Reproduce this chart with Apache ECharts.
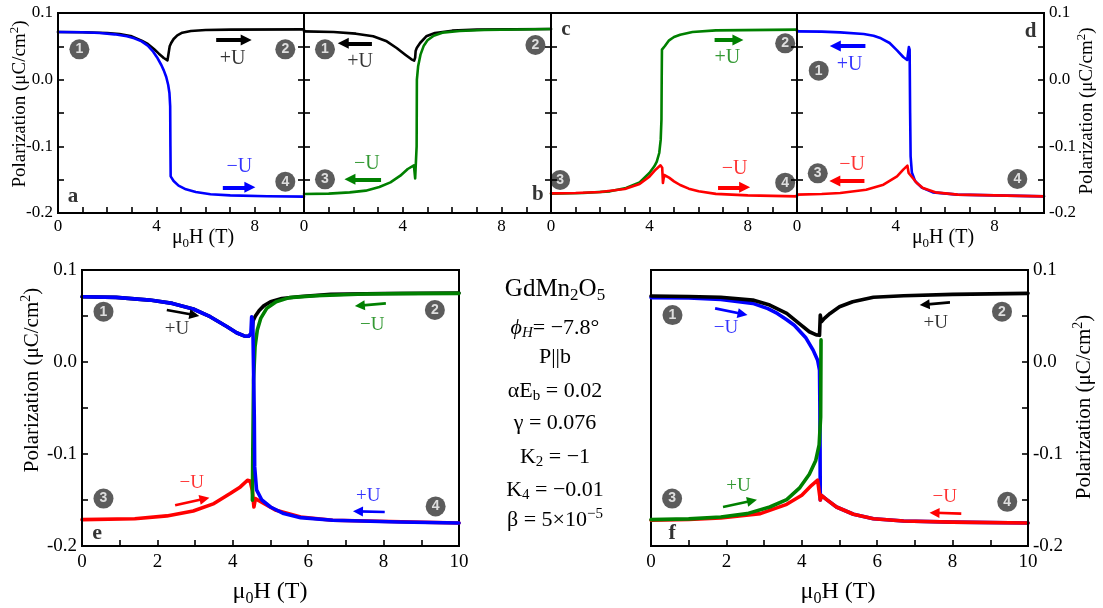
<!DOCTYPE html>
<html>
<head>
<meta charset="utf-8">
<script src="https://cdn.jsdelivr.net/npm/echarts@6/dist/echarts.min.js"></script>
<style>
  html, body { margin: 0; padding: 0; background: #fff; }
  #chart { width: 1103px; height: 608px; }
</style>
</head>
<body>
<div id="chart"></div>
<script>
// ---- polarization P (μC/cm²) versus field μ0H (T), GdMn2O5 model curves ----

// axis ranges and tick labels
const fieldRange = [0, 10];
const polRange = [-0.2, 0.1];
const topFieldLabels = [0, 4, 8];
const bottomFieldLabels = [0, 2, 4, 6, 8, 10];
const polLabels = [-0.2, -0.1, 0.0, 0.1];

// panel a
const a_black = [[0,0.0715],[1,0.0712],[2,0.07],[2.5,0.0685],[3,0.065],[3.4,0.0585],[3.65,0.0535],[3.9,0.046],[4.1,0.039],[4.3,0.0325],[4.45,0.029],[4.52,0.031],[4.54,0.05],[4.6,0.055],[4.7,0.061],[4.85,0.0665],[5.05,0.0705],[5.4,0.073],[6,0.0745],[7,0.075],[10,0.0755]];
const a_blue = [[0,0.0715],[1,0.0712],[1.7,0.07],[2.3,0.068],[2.8,0.065],[3.1,0.062],[3.4,0.0575],[3.65,0.051],[3.87,0.042],[4.05,0.032],[4.2,0.022],[4.3,0.014],[4.4,0.004],[4.48,-0.008],[4.53,-0.02],[4.56,-0.04],[4.57,-0.1],[4.58,-0.145],[4.7,-0.152],[4.9,-0.159],[5.2,-0.1645],[5.6,-0.1685],[6.2,-0.1718],[7,-0.1735],[8.5,-0.1748],[10,-0.1755]];
// panel b
const b_black = [[0,0.0725],[1.2,0.0715],[2.1,0.069],[2.8,0.065],[3.35,0.0575],[3.75,0.0475],[4.1,0.0375],[4.35,0.0305],[4.46,0.0285],[4.5,0.033],[4.52,0.043],[4.57,0.048],[4.7,0.055],[4.95,0.065],[5.3,0.07],[6,0.0735],[7,0.075],[10,0.076]];
const b_green = [[0,-0.1715],[1.0,-0.171],[1.85,-0.169],[2.5,-0.1665],[3.05,-0.161],[3.5,-0.154],[3.9,-0.144],[4.2,-0.134],[4.45,-0.1285],[4.5,-0.148],[4.55,-0.145],[4.56,-0.1],[4.57,0.0],[4.62,0.02],[4.72,0.038],[4.85,0.051],[5.0,0.059],[5.25,0.066],[5.6,0.0705],[6.3,0.073],[7.3,0.0745],[10,0.076]];
// panel c
const c_green = [[0,-0.171],[1.3,-0.17],[2.4,-0.1675],[3.05,-0.1625],[3.6,-0.154],[4.0,-0.14],[4.2,-0.13],[4.3,-0.123],[4.4,-0.11],[4.46,-0.09],[4.49,-0.06],[4.5,0.0],[4.51,0.045],[4.63,0.0505],[4.8,0.059],[5.0,0.064],[5.25,0.0675],[5.75,0.0715],[6.7,0.074],[10,0.075]];
const c_red = [[0,-0.1705],[1,-0.17],[2,-0.1685],[3,-0.164],[3.6,-0.1565],[4.0,-0.1455],[4.25,-0.135],[4.45,-0.1285],[4.52,-0.132],[4.55,-0.155],[4.6,-0.143],[4.8,-0.147],[5.0,-0.1525],[5.25,-0.158],[5.6,-0.1635],[6.0,-0.1675],[6.7,-0.1713],[8,-0.1735],[10,-0.175]];
// panel d
const d_blue = [[0,0.0725],[1,0.072],[1.75,0.071],[2.7,0.0685],[3.1,0.066],[3.4,0.062],[3.75,0.055],[4.05,0.044],[4.3,0.034],[4.46,0.0295],[4.52,0.032],[4.53,0.049],[4.56,0.045],[4.58,-0.05],[4.6,-0.115],[4.65,-0.139],[4.78,-0.152],[5.05,-0.162],[5.5,-0.169],[6.5,-0.1725],[10,-0.175]];
const d_red = [[0,-0.1725],[1,-0.1715],[1.75,-0.17],[2.8,-0.165],[3.5,-0.1575],[4.05,-0.145],[4.3,-0.135],[4.47,-0.129],[4.5,-0.131],[4.52,-0.14],[4.58,-0.1425],[4.85,-0.155],[5.1,-0.1625],[5.6,-0.169],[6.5,-0.1725],[10,-0.175]];
// panel e
const e_black = [[0,0.071],[0.9,0.0702],[1.8,0.0673],[2.4,0.0637],[2.95,0.0576],[3.4,0.0492],[3.85,0.0383],[4.1,0.0318],[4.3,0.0283],[4.42,0.028],[4.5,0.031],[4.54,0.045],[4.6,0.05],[4.7,0.056],[4.82,0.061],[5.0,0.0655],[5.3,0.069],[5.8,0.0712],[6.6,0.0735],[8,0.0745],[10,0.075]];
const e_red = [[0,-0.1713],[1.4,-0.1703],[2.25,-0.1673],[2.95,-0.162],[3.5,-0.1539],[3.93,-0.143],[4.2,-0.1358],[4.39,-0.1285],[4.46,-0.1293],[4.52,-0.14],[4.56,-0.1576],[4.6,-0.1485],[4.8,-0.1532],[5.15,-0.1612],[5.8,-0.1684],[6.65,-0.172],[10,-0.175]];
const e_green = [[10,0.0746],[8.5,0.0743],[7.5,0.0739],[6.2,0.072],[5.5,0.07],[5.15,0.0655],[4.9,0.0583],[4.74,0.0474],[4.65,0.0347],[4.59,0.0166],[4.55,-0.02],[4.53,-0.1],[4.52,-0.1503]];
const e_blue = [[0,0.071],[0.9,0.0702],[1.8,0.0673],[2.4,0.0637],[2.95,0.0576],[3.4,0.0492],[3.85,0.0383],[4.1,0.0318],[4.3,0.0283],[4.42,0.028],[4.48,0.031],[4.5,0.049],[4.53,0.045],[4.57,-0.06],[4.58,-0.114],[4.63,-0.139],[4.77,-0.15],[5.0,-0.1576],[5.35,-0.1648],[5.8,-0.1692],[6.65,-0.172],[8.4,-0.1739],[10,-0.175]];
// panel f
const f_blue = [[0,0.07],[1,0.0697],[1.85,0.068],[2.7,0.0637],[3.1,0.058],[3.35,0.0528],[3.6,0.046],[3.8,0.04],[4.1,0.0267],[4.3,0.0129],[4.42,0.002],[4.47,-0.009],[4.48,-0.05],[4.49,-0.15],[4.52,-0.1449],[4.66,-0.1496],[4.92,-0.1576],[5.37,-0.1655],[5.9,-0.1703],[6.7,-0.1728],[8,-0.174],[10,-0.175]];
const f_red = [[0,-0.172],[1,-0.1712],[1.85,-0.1695],[2.9,-0.1648],[3.6,-0.1547],[4.0,-0.1449],[4.26,-0.134],[4.42,-0.1285],[4.47,-0.1293],[4.49,-0.15],[4.52,-0.1449],[4.66,-0.1496],[4.92,-0.1576],[5.37,-0.1655],[5.9,-0.1703],[6.7,-0.1728],[8,-0.174],[10,-0.175]];
const f_green = [[0,-0.1713],[1,-0.1705],[1.85,-0.1684],[2.55,-0.1648],[3.15,-0.1576],[3.6,-0.1496],[3.95,-0.1365],[4.2,-0.122],[4.37,-0.107],[4.46,-0.09],[4.5,-0.06],[4.51,0.024]];
const f_black = [[0,0.0717],[1,0.0712],[1.85,0.0703],[2.7,0.0673],[3.15,0.0619],[3.6,0.0528],[3.95,0.0412],[4.2,0.0329],[4.4,0.0293],[4.47,0.029],[4.49,0.051],[4.52,0.0438],[4.6,0.0474],[4.75,0.0528],[5.0,0.06],[5.35,0.0655],[5.9,0.0703],[6.7,0.072],[8,0.0735],[10,0.0746]];

// sweep annotations in data units: [x, y, text, curve]
const notes_a = [[7.1,0.032,'+U','black'],[7.37,-0.1305,'−U','blue']];
const notes_b = [[2.27,0.027,'+U','black'],[2.54,-0.1255,'−U','green']];
const notes_c = [[7.17,0.0335,'+U','green'],[7.46,-0.133,'−U','red']];
const notes_d = [[2.13,0.023,'+U','blue'],[2.23,-0.128,'−U','red']];
const notes_e = [[2.52,0.0354,'+U','black'],[7.7,0.04,'−U','green'],[2.91,-0.132,'−U','red'],[7.59,-0.146,'+U','blue']];
const notes_f = [[1.99,0.0365,'−U','blue'],[7.55,0.0427,'+U','black'],[2.32,-0.1347,'+U','green'],[7.79,-0.1467,'−U','red']];
// sweep direction arrows: [x from, y from, x to, y to, curve]
const arrows_a = [[6.43,0.0595,7.65,0.0595,'black'],[6.7,-0.1615,7.8,-0.1615,'blue']];
const arrows_b = [[2.75,0.0545,1.59,0.0545,'black'],[3.12,-0.1495,1.86,-0.1495,'green']];
const arrows_c = [[6.65,0.0595,7.6,0.0595,'green'],[6.79,-0.1615,7.87,-0.1615,'red']];
const arrows_d = [[2.77,0.0505,1.55,0.0505,'blue'],[2.73,-0.152,1.53,-0.152,'red']];
const arrows_e = [[2.25,0.0565,2.98,0.051,'black'],[8.06,0.0637,7.37,0.0613,'green'],[2.47,-0.1557,3.25,-0.1486,'red'],[8.03,-0.163,7.32,-0.1624,'blue']];
const arrows_f = [[1.7,0.0583,2.43,0.0521,'blue'],[7.93,0.0648,7.26,0.0624,'black'],[1.91,-0.1576,2.68,-0.1508,'green'],[8.23,-0.1648,7.52,-0.1639,'red']];
// numbered states: [x, y, number]
const badges_a = [[0.87,0.0455,1],[9.24,0.0455,2],[9.24,-0.153,4]];
const badges_b = [[0.85,0.0455,1],[9.37,0.052,2],[0.85,-0.1495,3]];
const badges_c = [[0.37,-0.1505,3],[9.52,0.0545,2],[9.52,-0.1545,4]];
const badges_d = [[0.88,0.0135,1],[0.84,-0.1405,3],[8.92,-0.149,4]];
const badges_e = [[0.57,0.0547,1],[9.36,0.0565,2],[0.57,-0.1485,3],[9.38,-0.157,4]];
const badges_f = [[0.57,0.051,1],[9.31,0.0547,2],[0.56,-0.1485,3],[9.45,-0.152,4]];
// panel letters: [x, y, letter]
const letter_a = [0.61,-0.1755,'a'];
const letter_b = [9.47,-0.173,'b'];
const letter_c = [0.61,0.0755,'c'];
const letter_d = [9.46,0.072,'d'];
const letter_e = [0.4,-0.186,'e'];
const letter_f = [0.56,-0.186,'f'];

// ---- styling ----
const SERIF = '"Liberation Serif", "Times New Roman", serif';
const SANS = '"Liberation Sans", Arial, sans-serif';
const curveColor = { black: '#000000', blue: '#0000ff', green: '#008000', red: '#ff0000' };

const TOP = { tick: 17, line: 2.6, note: 20, letter: 21, arrowW: 4, arrowHead: 11, xMargin: 5 };
const BOT = { tick: 19, line: 3.6, note: 19, letter: 22, arrowW: 2.6, arrowHead: 10, xMargin: 7 };

const panels = [
  { box: { left: 58,  top: 13,  width: 246, height: 200 }, s: TOP, xLabels: topFieldLabels, y: [['left', true], ['right', false]],
    curves: [['black', a_black], ['blue', a_blue]], notes: notes_a, arrows: arrows_a, badges: badges_a, letter: letter_a },
  { box: { left: 304, top: 13,  width: 247, height: 200 }, s: TOP, xLabels: topFieldLabels, y: [['left', false], ['right', false]],
    curves: [['black', b_black], ['green', b_green]], notes: notes_b, arrows: arrows_b, badges: badges_b, letter: letter_b },
  { box: { left: 551, top: 13,  width: 246, height: 200 }, s: TOP, xLabels: topFieldLabels, y: [['left', false], ['right', false]],
    curves: [['green', c_green], ['red', c_red]], notes: notes_c, arrows: arrows_c, badges: badges_c, letter: letter_c },
  { box: { left: 797, top: 13,  width: 247, height: 200 }, s: TOP, xLabels: topFieldLabels, y: [['left', false], ['right', true]],
    curves: [['blue', d_blue], ['red', d_red]], notes: notes_d, arrows: arrows_d, badges: badges_d, letter: letter_d },
  { box: { left: 82,  top: 270, width: 377, height: 276 }, s: BOT, xLabels: bottomFieldLabels, y: [['left', true]],
    curves: [['black', e_black], ['red', e_red], ['green', e_green], ['blue', e_blue]], notes: notes_e, arrows: arrows_e, badges: badges_e, letter: letter_e },
  { box: { left: 651, top: 270, width: 377, height: 276 }, s: BOT, xLabels: bottomFieldLabels, y: [['right', true]],
    curves: [['blue', f_blue], ['red', f_red], ['green', f_green], ['black', f_black]], notes: notes_f, arrows: arrows_f, badges: badges_f, letter: letter_f }
];

const near = (v, list) => list.some(t => Math.abs(v - t) < 1e-6);
const frame = () => ({ show: true, onZero: false, lineStyle: { color: '#000', width: 2 } });
const ticks = () => ({ show: true, inside: true, length: 6, lineStyle: { color: '#000', width: 1.6 } });
const grid = [], xAxis = [], yAxis = [], series = [];

panels.forEach((p, i) => {
  const s = p.s;
  grid.push(Object.assign({ show: true, borderColor: '#000', borderWidth: 2 }, p.box));
  xAxis.push({
    gridIndex: i, type: 'value', position: 'bottom', min: fieldRange[0], max: fieldRange[1], interval: 1,
    axisLine: frame(), splitLine: { show: false }, axisTick: ticks(), z: 10,
    axisLabel: {
      color: '#000', fontFamily: SERIF, fontSize: s.tick, margin: s.xMargin,
      showMinLabel: true, showMaxLabel: true,
      formatter: v => near(v, p.xLabels) ? String(Math.round(v)) : ''
    }
  });
  const firstY = yAxis.length;
  p.y.forEach(([pos, labels]) => {
    yAxis.push({
      gridIndex: i, type: 'value', position: pos, min: polRange[0], max: polRange[1], interval: 0.05,
      axisLine: frame(), splitLine: { show: false }, axisTick: ticks(), z: 10,
      axisLabel: {
        show: labels, color: '#000', fontFamily: SERIF, fontSize: s.tick, margin: 5,
        showMinLabel: true, showMaxLabel: true,
        formatter: v => near(v, polLabels) ? (Math.round(v * 10) / 10).toFixed(1) : ''
      }
    });
  });
  const axes = { xAxisIndex: i, yAxisIndex: firstY };

  p.curves.forEach(([c, pts]) => {
    series.push(Object.assign({
      type: 'line', data: pts, symbol: 'none', showSymbol: false, silent: true,
      lineStyle: { color: curveColor[c], width: s.line, join: 'round', cap: 'round' }, z: 2
    }, axes));
  });

  series.push(Object.assign({
    type: 'lines', coordinateSystem: 'cartesian2d', silent: true, z: 4,
    symbol: ['none', 'triangle'], symbolSize: s.arrowHead,
    lineStyle: { width: s.arrowW, opacity: 1, curveness: 0 },
    data: p.arrows.map(a => ({ coords: [[a[0], a[1]], [a[2], a[3]]], lineStyle: { color: curveColor[a[4]] } }))
  }, axes));

  series.push(Object.assign({
    type: 'scatter', symbolSize: 0, silent: true, z: 5,
    label: { show: true, position: 'inside', fontFamily: SERIF, fontSize: s.note },
    data: p.notes.map(n => ({ value: [n[0], n[1]], label: { formatter: n[2], color: curveColor[n[3]] } }))
  }, axes));

  series.push(Object.assign({
    type: 'scatter', symbol: 'circle', symbolSize: 20, silent: true, z: 5,
    itemStyle: { color: '#333333' },
    label: { show: true, position: 'inside', color: '#fff', fontFamily: SANS, fontWeight: 'bold', fontSize: 14,
             formatter: q => String(q.value[2]) },
    data: p.badges.map(b => ({ value: b }))
  }, axes));

  series.push(Object.assign({
    type: 'scatter', symbolSize: 0, silent: true, z: 5,
    label: { show: true, position: 'inside', color: '#000', fontFamily: SERIF, fontWeight: 'bold', fontSize: s.letter,
             formatter: q => q.value[2] },
    data: [{ value: p.letter }]
  }, axes));
});

// rich-text styles: n normal, s subscript, p superscript, i italic, is italic subscript
const richFor = (size) => {
  const L = Math.round(size * 1.2);
  const shift = Math.round(size * 0.3);
  const small = Math.round(size * 0.66);
  const base = { fontFamily: SERIF, fill: '#000' };
  return {
    n:  Object.assign({ fontSize: size, lineHeight: L }, base),
    i:  Object.assign({ fontSize: size, lineHeight: L, fontStyle: 'italic' }, base),
    s:  Object.assign({ fontSize: small, lineHeight: L - 2 * shift, verticalAlign: 'bottom' }, base),
    is: Object.assign({ fontSize: small, lineHeight: L - 2 * shift, verticalAlign: 'bottom', fontStyle: 'italic' }, base),
    p:  Object.assign({ fontSize: small, lineHeight: L - 2 * shift, verticalAlign: 'top' }, base)
  };
};
const txt = (x, y, text, size, rot) => ({
  type: 'text', x, y, rotation: rot || 0, silent: true,
  style: { text, align: 'center', verticalAlign: 'middle', rich: richFor(size), fontFamily: SERIF, fontSize: size, fill: '#000' }
});
const polTitle = '{n|Polarization (μC/cm}{p|2}{n|)}';
const fieldTitle = '{n|μ}{s|0}{n|H (T)}';

const graphic = [
  txt(20, 104, polTitle, 19, Math.PI / 2),
  txt(1087, 111, polTitle, 19, Math.PI / 2),
  txt(203, 238, fieldTitle, 20),
  txt(943, 238, fieldTitle, 20),
  txt(32, 380, polTitle, 21, Math.PI / 2),
  txt(1084, 407, polTitle, 21, Math.PI / 2),
  txt(270, 592, fieldTitle, 24),
  txt(838, 592, fieldTitle, 24),
  txt(555, 289, '{n|GdMn}{s|2}{n|O}{s|5}', 25),
  txt(555, 328, '{i|ϕ}{is|H}{n|= −7.8°}', 22),
  txt(555, 357, '{n|P||b}', 22),
  txt(555, 391, '{n|αE}{s|b}{n| = 0.02}', 22),
  txt(555, 423, '{n|γ = 0.076}', 22),
  txt(555, 457, '{n|K}{s|2}{n| = −1}', 22),
  txt(555, 490, '{n|K}{s|4}{n| = −0.01}', 22),
  txt(555, 520, '{n|β = 5×10}{p|−5}', 22)
];

const chart = echarts.init(document.getElementById('chart'), null, { renderer: 'canvas' });
chart.setOption({
  animation: false,
  backgroundColor: '#fff',
  grid, xAxis, yAxis, series, graphic
});
</script>
</body>
</html>
